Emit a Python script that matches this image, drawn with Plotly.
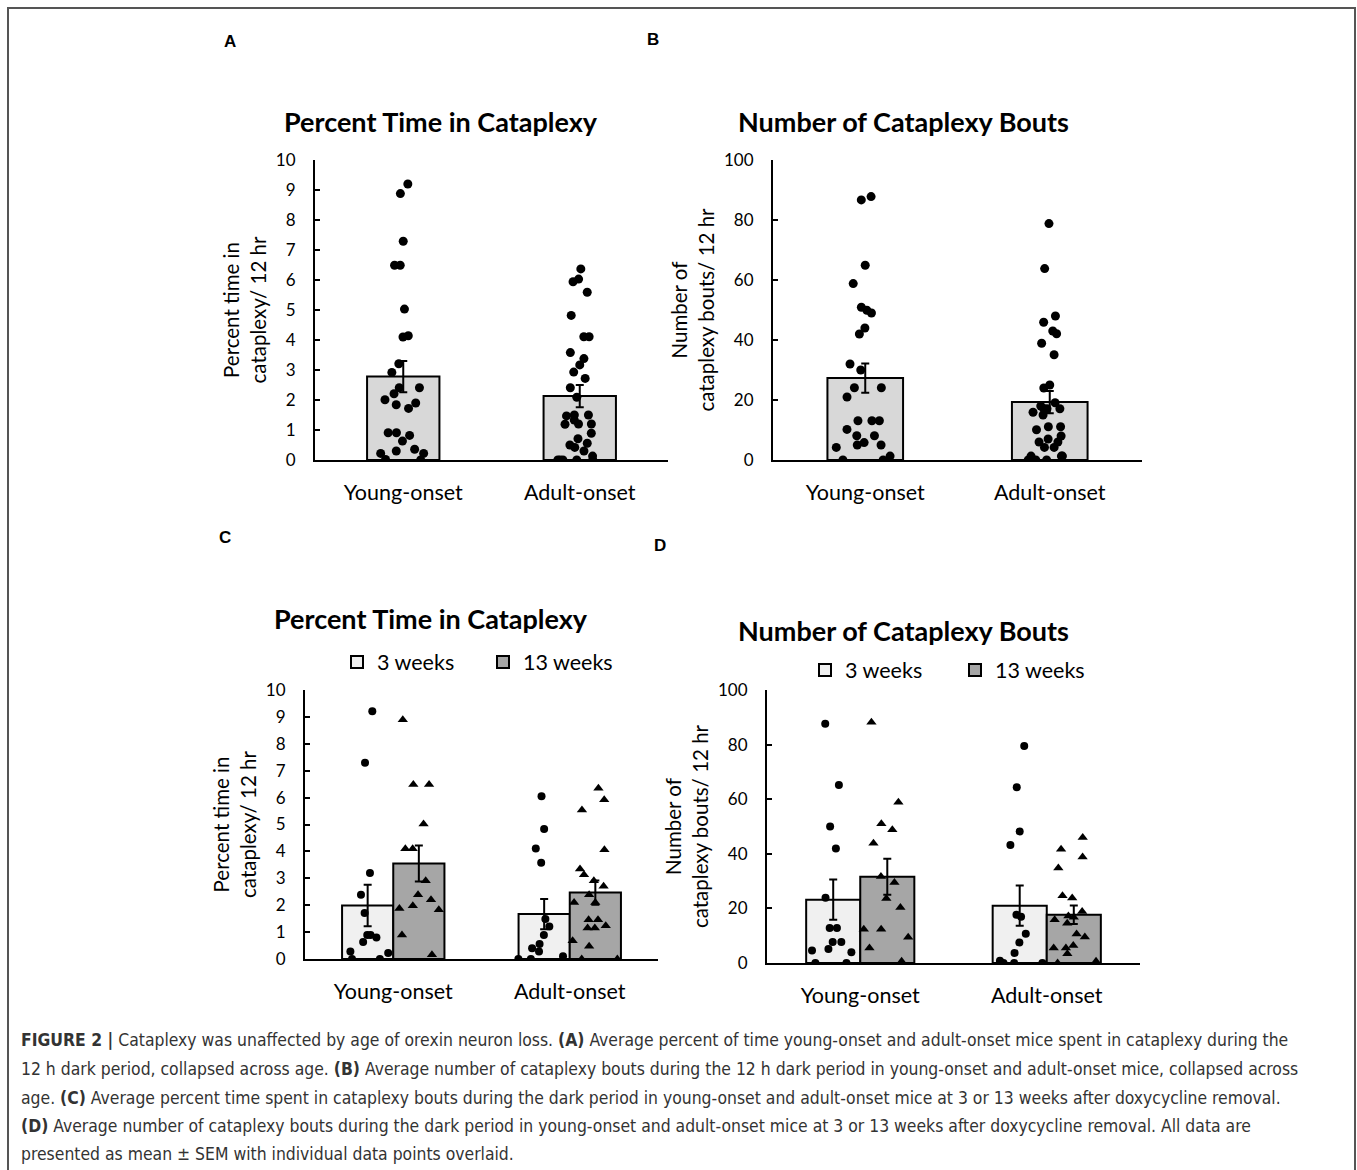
import plotly.graph_objects as go

W, H = 1357, 1170

categories = ["Young-onset", "Adult-onset"]

# Panel A: percent time in cataplexy (collapsed across age)
a_means = [2.78, 2.13]
a_sem = [0.52, 0.37]
a_young = [9.2, 8.88, 7.29, 6.49, 6.49, 5.03, 4.1, 4.14, 3.21, 2.92, 2.41, 2.41, 2.01,
           1.9, 2.21, 1.72, 1.84, 0.82, 0.91, 0.91, 0.63, 0.36, 0.3, 0.22, 0.22, 0.02, 0.0]
a_adult = [6.37, 5.94, 6.03, 5.59, 4.82, 4.11, 4.11, 3.58, 3.38, 3.17, 2.93, 2.72, 2.41,
           2.09, 1.5, 1.5, 1.33, 1.47, 1.2, 1.2, 1.19, 0.89, 0.71, 0.56, 0.5, 0.42, 0.3,
           0.13, 0.0, 0.0, 0.0, 0.0, 0.0]

# Panel B: number of cataplexy bouts (collapsed across age)
b_means = [27.3, 19.3]
b_sem = [4.9, 3.7]
b_young = [87.8, 86.7, 64.9, 58.8, 49.9, 50.9, 49.0, 44.0, 42.0, 32.0, 30.0, 24.1, 24.1,
           21.0, 13.1, 13.1, 13.1, 10.2, 8.1, 8.1, 5.8, 5.0, 5.0, 4.2, 1.3, 0.0, 0.0]
b_adult = [78.8, 63.8, 48.0, 45.9, 43.0, 42.1, 38.9, 35.1, 25.0, 24.0, 19.1, 17.1, 18.0,
           15.9, 17.1, 17.1, 15.0, 11.1, 11.1, 10.1, 8.0, 7.0, 6.0, 6.0, 4.2, 4.2, 1.3,
           1.3, 1.3, 0.0, 0.0, 0.0]

# Panel C: percent time, 3 vs 13 weeks
c_means_3w = [1.99, 1.67]
c_sem_3w = [0.77, 0.56]
c_means_13w = [3.55, 2.47]
c_sem_13w = [0.67, 0.45]
c_young_3w = [9.21, 7.3, 3.2, 2.39, 1.71, 0.89, 0.89, 0.8, 0.63, 0.28, 0.22, 0.0, 0.0]
c_adult_3w = [6.05, 4.83, 4.11, 3.58, 1.49, 1.21, 0.89, 0.56, 0.4, 0.28, 0.1, 0.0, 0.0]
c_young_13w = [8.89, 6.49, 6.49, 5.02, 4.1, 4.1, 2.91, 2.2, 1.98, 2.39, 1.88, 1.83, 0.89, 0.16]
c_adult_13w = [6.35, 5.92, 5.54, 4.06, 3.35, 3.13, 2.91, 2.7, 2.39, 2.1, 2.1, 1.46, 1.46,
               1.24, 1.15, 1.15, 0.68, 0.47, 0.0, 0.0]

# Panel D: number of bouts, 3 vs 13 weeks
d_means_3w = [23.2, 21.0]
d_sem_3w = [7.4, 7.4]
d_means_13w = [31.6, 17.7]
d_sem_13w = [6.6, 3.4]
d_young_3w = [87.6, 65.2, 50.0, 41.9, 23.9, 12.8, 12.8, 7.7, 7.7, 4.6, 5.1, 3.9, 0.0, 0.0]
d_adult_3w = [79.5, 64.4, 48.2, 43.2, 17.7, 16.9, 10.7, 7.5, 3.7, 0.0, 0.0, 0.8, 0.0]
d_young_13w = [88.2, 58.9, 51.0, 48.8, 43.9, 31.7, 29.5, 23.6, 20.3, 12.4, 12.4, 9.4, 5.5, 0.6]
d_adult_13w = [46.0, 41.7, 38.8, 34.8, 23.8, 24.6, 18.9, 16.8, 15.8, 17.2, 14.6, 10.6, 9.5,
               5.5, 5.5, 6.4, 3.4, 0.6, 0.0]

series_names = ["3 weeks", "13 weeks"]
titles = ["Percent Time in Cataplexy", "Number of Cataplexy Bouts",
          "Percent Time in Cataplexy", "Number of Cataplexy Bouts"]
ytitles = ["Percent time in<br>cataplexy/ 12 hr", "Number of<br>cataplexy bouts/ 12 hr",
           "Percent time in<br>cataplexy/ 12 hr", "Number of<br>cataplexy bouts/ 12 hr"]
panel_letters = ["A", "B", "C", "D"]

caption_lines = [
    "<b>FIGURE 2 |</b> Cataplexy was unaffected by age of orexin neuron loss. <b>(A)</b> Average percent of time young-onset and adult-onset mice spent in cataplexy during the",
    "12 h dark period, collapsed across age. <b>(B)</b> Average number of cataplexy bouts during the 12 h dark period in young-onset and adult-onset mice, collapsed across",
    "age. <b>(C)</b> Average percent time spent in cataplexy bouts during the dark period in young-onset and adult-onset mice at 3 or 13 weeks after doxycycline removal.",
    "<b>(D)</b> Average number of cataplexy bouts during the dark period in young-onset and adult-onset mice at 3 or 13 weeks after doxycycline removal. All data are",
    "presented as mean \u00b1 SEM with individual data points overlaid.",
]

FONT = "Lato, Open Sans, sans-serif"
GRAY_A = "#d8d8d8"
LIGHT = "#f0f0f0"
DARK = "#a6a6a6"

fig = go.Figure()

# pixel geometry for each panel: (x_left, x_right, y_top, y_bottom)
panels = {
    1: (315, 668, 160, 460),
    2: (773, 1142, 160, 460),
    3: (305, 658, 690, 959),
    4: (767, 1140, 690, 963),
}
yranges = {1: 10, 2: 100, 3: 10, 4: 100}
ydticks = {1: 1, 2: 20, 3: 1, 4: 20}

xpos = list(range(len(categories)))


def ax(n):
    return ("x" if n == 1 else f"x{n}"), ("y" if n == 1 else f"y{n}")


def add_points(n, pos, groups, symbol, width, jitter, size):
    xa, ya = ax(n)
    xs, ys = [], []
    for p, vals in zip(pos, groups):
        xs += [p] * len(vals)
        ys += list(vals)
    fig.add_trace(go.Box(
        x=xs, y=ys, xaxis=xa, yaxis=ya, boxpoints="all", jitter=jitter, pointpos=0,
        width=width, fillcolor="rgba(0,0,0,0)", line=dict(color="rgba(0,0,0,0)", width=0),
        marker=dict(color="black", size=size, symbol=symbol), showlegend=False,
        hoveron="points", whiskerwidth=0))


# Panels A and B: single bars
bw = 0.41
for n, means, sem, young, adult in [(1, a_means, a_sem, a_young, a_adult),
                                     (2, b_means, b_sem, b_young, b_adult)]:
    xa, ya = ax(n)
    fig.add_trace(go.Bar(
        x=xpos, y=means, width=bw, xaxis=xa, yaxis=ya, showlegend=False,
        marker=dict(color=GRAY_A, line=dict(color="black", width=2)),
        error_y=dict(type="data", array=sem, color="black", thickness=2, width=4)))
    add_points(n, xpos, [young, adult], "circle", 0.38, 1.0, 9)

# Panels C and D: grouped bars
gw = 0.29
legend_ids = {3: ("legend", "legend2"), 4: ("legend3", "legend4")}
for n, m3, s3, m13, s13, y3, a3, y13, a13 in [
        (3, c_means_3w, c_sem_3w, c_means_13w, c_sem_13w, c_young_3w, c_adult_3w, c_young_13w, c_adult_13w),
        (4, d_means_3w, d_sem_3w, d_means_13w, d_sem_13w, d_young_3w, d_adult_3w, d_young_13w, d_adult_13w)]:
    xa, ya = ax(n)
    fig.add_trace(go.Bar(
        x=xpos, y=m3, width=gw, offset=-gw, xaxis=xa, yaxis=ya, name=series_names[0],
        legend=legend_ids[n][0],
        marker=dict(color=LIGHT, line=dict(color="black", width=2)),
        error_y=dict(type="data", array=s3, color="black", thickness=2, width=4)))
    fig.add_trace(go.Bar(
        x=xpos, y=m13, width=gw, offset=0, xaxis=xa, yaxis=ya, name=series_names[1],
        legend=legend_ids[n][1],
        marker=dict(color=DARK, line=dict(color="black", width=2)),
        error_y=dict(type="data", array=s13, color="black", thickness=2, width=4)))
    add_points(n, [p - gw / 2 for p in xpos], [y3, a3], "circle", 0.3, 1.0, 8)
    add_points(n, [p + gw / 2 for p in xpos], [y13, a13], "triangle-up", 0.3, 1.0, 9)

layout = dict(
    width=W, height=H, margin=dict(l=0, r=0, t=0, b=0, autoexpand=False),
    paper_bgcolor="white", plot_bgcolor="rgba(0,0,0,0)",
    font=dict(family=FONT, color="black", size=16),
    barmode="overlay", boxmode="overlay",
)

for n, (x0, x1, y0, y1) in panels.items():
    xk = "xaxis" if n == 1 else f"xaxis{n}"
    yk = "yaxis" if n == 1 else f"yaxis{n}"
    layout[xk] = dict(
        domain=[x0 / W, x1 / W], range=[-0.5, 1.5], tickvals=xpos, ticktext=categories,
        showline=True, linecolor="black", linewidth=2, ticks="", showgrid=False,
        zeroline=False, tickfont=dict(size=21.5), ticklabelstandoff=12, automargin=False,
        anchor="y" if n == 1 else f"y{n}")
    layout[yk] = dict(
        domain=[1 - y1 / H, 1 - y0 / H], range=[0, yranges[n]], dtick=ydticks[n],
        showline=True, linecolor="black", linewidth=2, ticks="inside", ticklen=5,
        tickwidth=2, tickcolor="black", showgrid=False, zeroline=False, automargin=False,
        tickfont=dict(size=17), ticklabelstandoff=14,
        title=dict(text=ytitles[n - 1], font=dict(size=20.5), standoff=4),
        anchor="x" if n == 1 else f"x{n}")

legend_pos = {"legend": (337, 662), "legend2": (483, 662),
              "legend3": (805, 670), "legend4": (955, 670)}
for k, (lx, ly) in legend_pos.items():
    layout[k] = dict(x=lx / W, y=1 - ly / H, xanchor="left", yanchor="middle",
                     orientation="h", bgcolor="rgba(0,0,0,0)", font=dict(size=21.5),
                     borderwidth=0)

annotations = []
title_pos = [(441, 122), (903, 122), (431, 618), (903, 630)]
for t, (tx, ty) in zip(titles, title_pos):
    annotations.append(dict(text=f"<b>{t}</b>", x=tx / W, y=1 - ty / H, xref="paper",
                            yref="paper", showarrow=False, xanchor="center", yanchor="middle",
                            font=dict(size=27, family=FONT)))
letter_pos = [(230, 42), (653, 40), (225, 538), (660, 545)]
for L, (lx, ly) in zip(panel_letters, letter_pos):
    annotations.append(dict(text=f"<b>{L}</b>", x=lx / W, y=1 - ly / H, xref="paper",
                            yref="paper", showarrow=False, xanchor="center", yanchor="middle",
                            font=dict(size=17, family="Liberation Sans, Arial")))
cap_y = [1040, 1069, 1098, 1126, 1154]
for line, cy in zip(caption_lines, cap_y):
    annotations.append(dict(text=line, x=19 / W, y=1 - cy / H, xref="paper", yref="paper",
                            showarrow=False, xanchor="left", yanchor="middle", align="left",
                            font=dict(size=17.4, color="#333333",
                                      family="Liberation Sans Narrow, DejaVu Sans Condensed, Liberation Sans")))
layout["annotations"] = annotations
layout["shapes"] = [dict(type="path", xref="paper", yref="paper",
                         path=f"M {8 / W},{-0.01} L {8 / W},{1 - 8 / H} L {1355 / W},{1 - 8 / H} L {1355 / W},{-0.01}",
                         line=dict(color="#555555", width=2))]

fig.update_layout(**layout)
fig.write_html("out.html", config={"displayModeBar": False},
               post_script="document.body.style.margin='0px';")
